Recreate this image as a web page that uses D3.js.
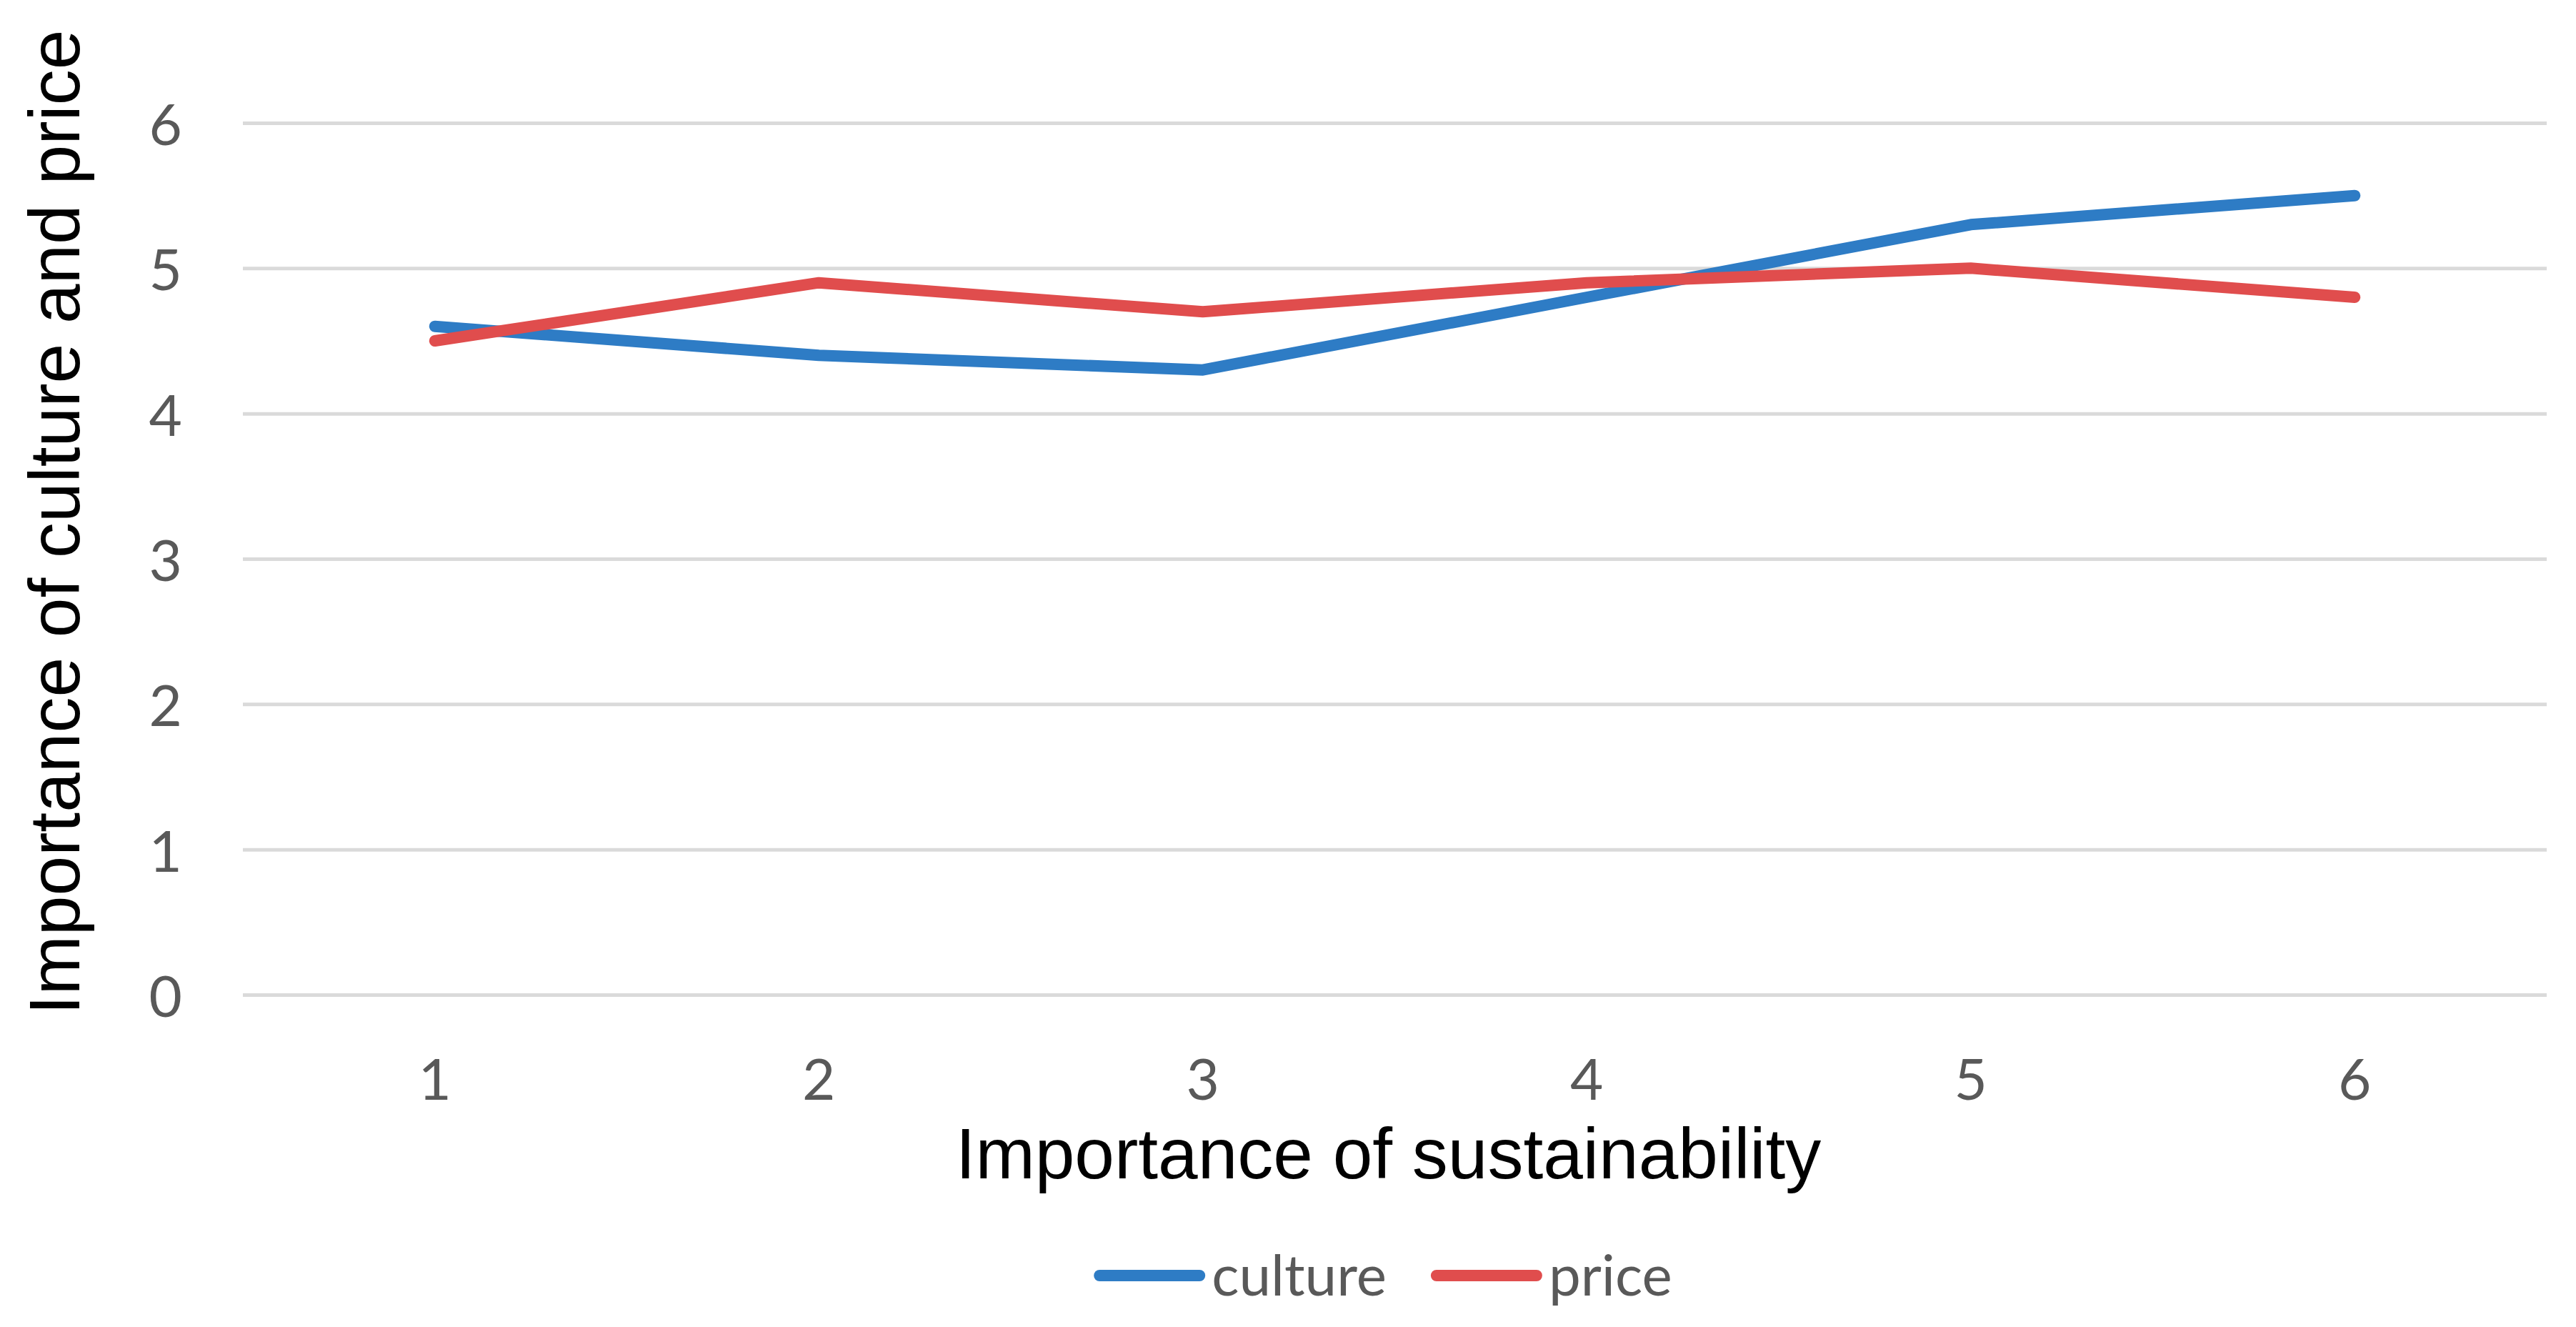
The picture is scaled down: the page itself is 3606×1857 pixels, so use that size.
<!DOCTYPE html>
<html>
<head>
<meta charset="utf-8">
<script src="https://cdn.jsdelivr.net/npm/d3@7"></script>
<style>
  html, body { margin: 0; padding: 0; background: #ffffff; }
  svg { display: block; }
  .tick-label { font-family: Lato, "Open Sans", sans-serif; fill: #595959; }
  .axis-title { font-family: "Liberation Sans", Arial, sans-serif; fill: #000000; }
</style>
</head>
<body>
<div id="chart"></div>
<script>
// data
const categories = ['1', '2', '3', '4', '5', '6'];
const culture = [4.6, 4.4, 4.3, 4.8, 5.3, 5.5];
const price = [4.5, 4.9, 4.7, 4.9, 5.0, 4.8];
const yTicks = [0, 1, 2, 3, 4, 5, 6];
const seriesNames = ['culture', 'price'];
const seriesColors = ['#2e7cc5', '#e04d4d'];

const width = 3606;
const height = 1857;
const margin = { top: 172, right: 41, bottom: 465, left: 340 };
const plotW = width - margin.left - margin.right;
const plotH = height - margin.top - margin.bottom;

const svg = d3.select('#chart')
  .append('svg')
  .attr('width', width)
  .attr('height', height)
  .attr('viewBox', `0 0 ${width} ${height}`);

const g = svg.append('g')
  .attr('transform', `translate(${margin.left},${margin.top})`);

const x = d3.scaleBand()
  .domain(categories)
  .range([0, plotW])
  .padding(0);

const y = d3.scaleLinear()
  .domain([0, 6])
  .range([plotH, 0]);

// Horizontal gridlines + y tick labels
const yAxis = g.append('g')
  .call(d3.axisLeft(y).tickValues(yTicks).tickSize(-plotW).tickPadding(85).tickFormat(d3.format('d')));
yAxis.select('.domain').remove();
yAxis.selectAll('.tick line')
  .attr('stroke', '#dadada')
  .attr('stroke-width', 5);
yAxis.selectAll('.tick text')
  .attr('class', 'tick-label')
  .attr('font-size', 80)
  .attr('dy', '0.38em')
  .attr('fill', '#595959');

// x tick labels
const xAxis = g.append('g')
  .attr('transform', `translate(0,${plotH})`)
  .call(d3.axisBottom(x).tickSize(0).tickPadding(90));
xAxis.select('.domain').remove();
xAxis.selectAll('.tick text')
  .attr('class', 'tick-label')
  .attr('font-size', 80)
  .attr('dy', '0.71em')
  .attr('fill', '#595959');

// Lines
const line = d3.line()
  .x((d, i) => x(categories[i]) + x.bandwidth() / 2)
  .y(d => y(d));

[culture, price].forEach((values, i) => {
  g.append('path')
    .datum(values)
    .attr('fill', 'none')
    .attr('stroke', seriesColors[i])
    .attr('stroke-width', 16)
    .attr('stroke-linejoin', 'round')
    .attr('stroke-linecap', 'round')
    .attr('d', line);
});

// Axis titles
svg.append('text')
  .attr('class', 'axis-title')
  .attr('x', margin.left + plotW / 2 - 9)
  .attr('y', 1649)
  .attr('text-anchor', 'middle')
  .attr('font-size', 100)
  .text('Importance of sustainability');

svg.append('text')
  .attr('class', 'axis-title')
  .attr('transform', 'translate(111,731) rotate(-90)')
  .attr('text-anchor', 'middle')
  .attr('font-size', 100)
  .text('Importance of culture and price');

// Legend
const legend = svg.append('g').attr('transform', 'translate(0,1785)');
const lineLen = 140;
const capPad = 8;
const textGap = 9;
const itemGap = 70;

const items = legend.selectAll('g.legend-item')
  .data(seriesNames)
  .enter()
  .append('g')
  .attr('class', 'legend-item');

items.append('line')
  .attr('x1', capPad)
  .attr('x2', capPad + lineLen)
  .attr('stroke', (d, i) => seriesColors[i])
  .attr('stroke-width', 16)
  .attr('stroke-linecap', 'round');

items.append('text')
  .attr('class', 'tick-label')
  .attr('x', capPad * 2 + lineLen + textGap)
  .attr('dy', '0.35em')
  .attr('font-size', 80)
  .text(d => d);

let offset = 0;
const widths = [];
items.each(function() {
  widths.push(this.getBBox().width);
});
const total = d3.sum(widths) + itemGap * (widths.length - 1);
let start = 1932 - total / 2;
items.attr('transform', (d, i) => {
  const tx = start + offset;
  offset += widths[i] + itemGap;
  return `translate(${tx},0)`;
});
</script>
</body>
</html>
